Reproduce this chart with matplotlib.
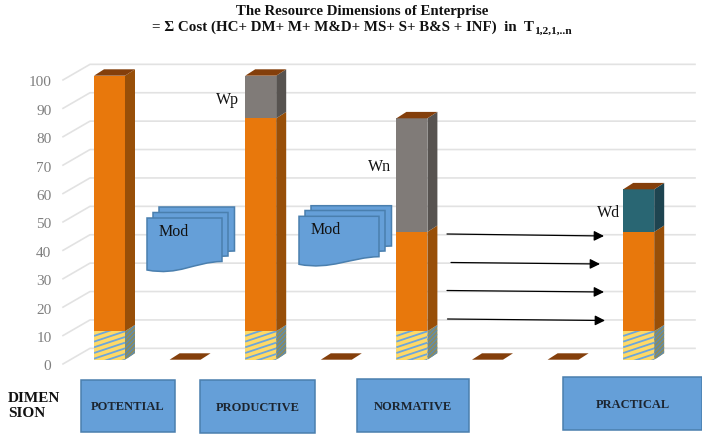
import matplotlib
matplotlib.use("Agg")
import matplotlib.pyplot as plt
import numpy as np
from matplotlib.patches import Polygon, PathPatch, Rectangle
from matplotlib.path import Path
from matplotlib.transforms import Affine2D

# stacked values per column, empty columns only show a floor tile
columns = [0, 1, 2, 3, 4, 5, 6, 7]
base = [10, 0, 10, 0, 10, 0, 0, 10]
orange = [90, 0, 75, 0, 35, 0, 0, 35]
grey = [0, 0, 15, 0, 40, 0, 0, 0]
teal = [0, 0, 0, 0, 0, 0, 0, 15]
yticks = [0, 10, 20, 30, 40, 50, 60, 70, 80, 90, 100]
dimensions = ["POTENTIAL", "PRODUCTIVE", "NORMATIVE", "PRACTICAL"]

W, H = 702, 435
SERIF = "Liberation Serif"
BAR_W = 0.41
DX, DY = 10 / 75.6, 6.4 / 2.84   # depth of the fake 3d box, in data units

fig = plt.figure(figsize=(W / 100, H / 100), dpi=100)
ax = fig.add_axes([0, 0, 1, 1])
ax.set_xlim(-109.5 / 75.6, (W - 109.5) / 75.6)
ax.set_ylim(-(H - 360.7) / 2.84, 360.7 / 2.84)
ax.axis("off")

# top-left pixel coordinates for the annotations
px = Affine2D().scale(1 / W, -1 / H).translate(0, 1) + fig.transFigure

# back wall gridlines and the slanted floor lines
xl = ax.get_xlim()
for v in yticks:
    x0 = xl[0] + 63 / 75.6
    x1 = xl[0] + 90 / 75.6
    x2 = xl[0] + 695 / 75.6
    ax.plot([x0, x1, x2], [v - 1.5, v + 4, v + 4], color="#e2e2e2", lw=1.2, zorder=1)
    ax.text(xl[0] + 51.5 / 75.6, v - 2.2, str(v), ha="right", va="center",
            family=SERIF, fontsize=11, color="#7f7f7f")


def side(x, b0, b1, color):
    xr = x + BAR_W / 2
    pts = [(xr, b0), (xr + DX, b0 + DY), (xr + DX, b1 + DY), (xr, b1)]
    p = Polygon(pts, closed=True, fc=color, ec="none", zorder=3)
    ax.add_patch(p)
    return p


def stripes(clip, x0, x1, y0, y1, slope, step, color, lw):
    # diagonal lines clipped to a face, slope is value units per x unit
    for c in np.arange(y0 - slope * (x1 - x0), y1 + step, step):
        line, = ax.plot([x0, x1], [c, c + slope * (x1 - x0)], color=color,
                        lw=lw, zorder=4, solid_capstyle="butt")
        line.set_clip_path(clip)


for i, x in enumerate(columns):
    # hatched bottom block
    if base[i] > 0:
        front = ax.bar(x, base[i], BAR_W, color="#FFD966", zorder=3)[0]
        stripes(front, x - BAR_W / 2, x + BAR_W / 2, 0, base[i],
                (10 / 2.84) / (30 / 75.6), 2.0, "#6CA6DC", 1.3)
        s = side(x, 0, base[i], "#8D8B5B")
        stripes(s, x + BAR_W / 2, x + BAR_W / 2 + DX, 0, base[i] + DY,
                (4 / 2.84) / (4 / 75.6), 1.5, "#5A8DB8", 0.9)
    b0 = base[i]
    for vals, col, dark in [(orange, "#E8780C", "#984F08"),
                            (grey, "#807B78", "#575350"),
                            (teal, "#296673", "#1E4450")]:
        if vals[i] > 0:
            ax.bar(x, vals[i], BAR_W, bottom=b0, color=col, zorder=3)
            side(x, b0, b0 + vals[i], dark)
            b0 += vals[i]
    # top face, on its own this is the floor tile of an empty column
    xl_, xr_ = x - BAR_W / 2, x + BAR_W / 2
    ax.add_patch(Polygon([(xl_, b0), (xr_, b0), (xr_ + DX, b0 + DY), (xl_ + DX, b0 + DY)],
                         closed=True, fc="#843F0B", ec="none", zorder=3))


def document(x0, x1, top, right_bot, left_bot):
    verts = [(x0, top), (x1, top), (x1, right_bot),
             (x1 - 28, right_bot + 0.5), (x0 + 32, left_bot + 6), (x0, left_bot),
             (x0, top), (x0, top)]
    codes = [Path.MOVETO, Path.LINETO, Path.LINETO,
             Path.CURVE4, Path.CURVE4, Path.CURVE4, Path.LINETO, Path.CLOSEPOLY]
    ax.add_patch(PathPatch(Path(verts, codes), fc="#659FD8", ec="#4A7FAE", lw=1.1,
                           transform=px, zorder=5))


# the two stacked "Mod" document shapes
document(159, 234.5, 208, 252, 260)
document(153, 228, 213.5, 257, 265.5)
document(147, 222, 219, 262.5, 271)
document(311, 391.5, 206.7, 247, 255)
document(305, 385, 211.5, 252, 260)
document(299, 379, 217.3, 257.7, 265.3)

labels = [("Mod", 159, 232.5), ("Mod", 311, 230.5), ("Wp", 216, 100.5),
          ("Wn", 368, 167.5), ("Wd", 597, 213.5)]
for txt, lx, ly in labels:
    ax.text(lx, ly, txt, transform=px, family=SERIF, fontsize=11.5,
            color="#111111", ha="left", va="center", zorder=6)

# arrows between normative and practical
arrows = [(447, 235, 604, 237), (451, 263.5, 600, 265),
          (447, 291.5, 604, 293), (447.5, 320, 605, 321.5)]
for x0, y0, x1, y1 in arrows:
    ax.annotate("", xy=(x1, y1), xytext=(x0, y0), xycoords=px, textcoords=px,
                arrowprops=dict(arrowstyle="-|>", color="black", lw=0.9,
                                mutation_scale=15, shrinkA=0, shrinkB=0), zorder=6)

# dimension boxes along the bottom
boxes = [(81, 381, 94, 52), (200, 381, 115, 53), (357, 380, 112, 53), (563, 378, 139, 53)]
for name, (bx, by, bw, bh) in zip(dimensions, boxes):
    ax.add_patch(Rectangle((bx, by), bw, bh, fc="#659FD8", ec="#4A7FAE", lw=1.1,
                           transform=px, zorder=5))
    ax.text(bx + bw / 2, by + bh / 2 + 0.5, name, transform=px, family=SERIF, fontsize=9,
            weight="bold", color="#1c2530", ha="center", va="center", zorder=6)

ax.text(8, 399, "DIMEN", transform=px, family=SERIF, fontsize=11, weight="bold",
        color="#111111", va="center")
ax.text(8, 414, "SION", transform=px, family=SERIF, fontsize=11, weight="bold",
        color="#111111", va="center")

# title lines
ax.text(362, 12, "The Resource Dimensions of Enterprise", transform=px, family=SERIF,
        fontsize=10.7, weight="bold", color="#111111", ha="center", va="center")
ax.text(152, 27, "= \u03a3 Cost (HC+ DM+ M+ M&D+ MS+ S+ B&S + INF)  in  T", transform=px,
        family=SERIF, fontsize=10.8, weight="bold", color="#111111", ha="left", va="center")
ax.text(534, 31, "1,2,1,..n", transform=px, family=SERIF, fontsize=8.2, weight="bold",
        color="#111111", ha="left", va="center")

fig.savefig("out.png", dpi=100)
